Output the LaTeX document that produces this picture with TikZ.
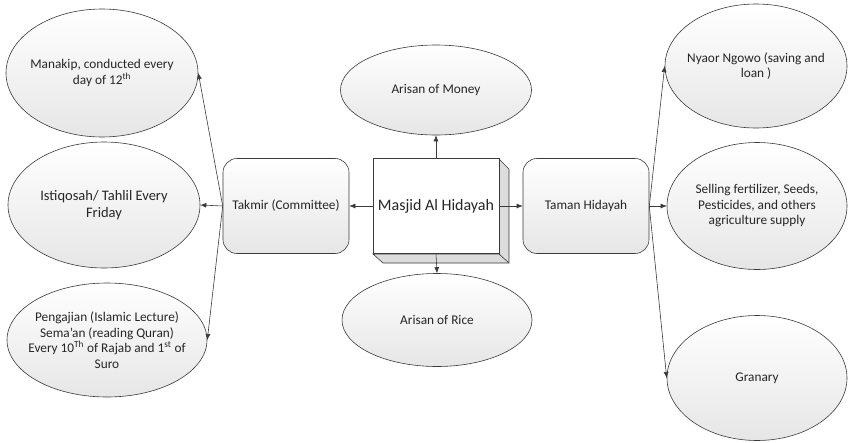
\documentclass[tikz,border=0pt]{standalone}
\usepackage{fontspec}
\setmainfont{Carlito}
\usepackage{xcolor}
\usetikzlibrary{shapes.geometric,arrows.meta}
\definecolor{linegray}{HTML}{3A3A3A}
\definecolor{fillgray}{HTML}{E6E6E6}
\definecolor{sidegray}{HTML}{DCDCDC}
\tikzset{
  oval/.style={ellipse, draw=linegray, inner sep=-20pt, top color=white, bottom color=fillgray,
    align=center, text=black!85, font=\fontsize{13.3}{15.5}\selectfont},
  roundbox/.style={rectangle, rounded corners=14pt, draw=linegray, top color=white, bottom color=fillgray,
    minimum width=126pt, minimum height=95pt, align=center, text=black!85, font=\fontsize{13.3}{15.5}\selectfont},
}
\begin{document}
\begin{tikzpicture}[x=1pt, y=-1pt, >={Latex[length=6pt,width=5pt]}, line width=0.6pt]
				\useasboundingbox (0, 0) rectangle (849, 442);
				% left side
				\node[oval, minimum width=192pt, minimum height=128pt] (manakip) at (102, 73) {Manakip, conducted every\\day of 12\textsuperscript{th}};
				\node[oval, minimum width=192pt, minimum height=126pt, font=\fontsize{14.5}{17.5}\selectfont] (istiqosah) at (104, 205) {Istiqosah/ Tahlil Every\\Friday};
				\node[oval, minimum width=200pt, minimum height=114pt] (pengajian) at (107, 340) {Pengajian (Islamic Lecture)\\Sema’an (reading Quran)\\Every 10\textsuperscript{Th} of Rajab and 1\textsuperscript{st} of\\Suro};
				\node[roundbox] (takmir) at (286, 206) {Takmir (Committee)};
				% middle
				\fill[sidegray, draw=linegray] (499, 159) -- (509, 169) -- (509, 263) -- (383, 263) -- (373, 254) -- (499, 254) -- cycle;
				\draw[linegray] (499, 254) -- (509, 263);
				\node[rectangle, draw=linegray, fill=white, minimum width=126pt, minimum height=95pt, text=black!85, font=\fontsize{16}{19}\selectfont] (masjid) at (436, 206) {Masjid Al Hidayah};
				\node[oval, minimum width=191pt, minimum height=90pt] (money) at (436, 90) {Arisan of Money};
				\node[oval, minimum width=190pt, minimum height=93pt] (rice) at (437, 320) {Arisan of Rice};
				% right side
				\node[roundbox] (taman) at (586, 206) {Taman Hidayah};
				\node[oval, minimum width=182pt, minimum height=124pt] (nyaor) at (756, 66) {Nyaor Ngowo (saving and\\loan )};
				\node[oval, minimum width=180pt, minimum height=127pt] (selling) at (757, 206) {Selling fertilizer, Seeds,\\Pesticides, and others\\agriculture supply};
				\node[oval, minimum width=180pt, minimum height=125pt] (granary) at (757, 378) {Granary};
				% arrows
				\draw[->, linegray] (masjid.north) -- (money.south);
				\draw[->, linegray] (masjid.south) -- (rice.north);
				\draw[->, linegray] (masjid.west) -- (takmir.east);
				\draw[->, linegray] (masjid.east) -- (taman.west);
				\draw[->, linegray] (takmir.west) -- (manakip.east);
				\draw[->, linegray] (takmir.west) -- (istiqosah.east);
				\draw[->, linegray] (takmir.west) -- (pengajian.east);
				\draw[->, linegray] (taman.east) -- (nyaor.west);
				\draw[->, linegray] (taman.east) -- (selling.west);
				\draw[->, linegray] (taman.east) -- (granary.west);
			\end{tikzpicture}
\end{document}
